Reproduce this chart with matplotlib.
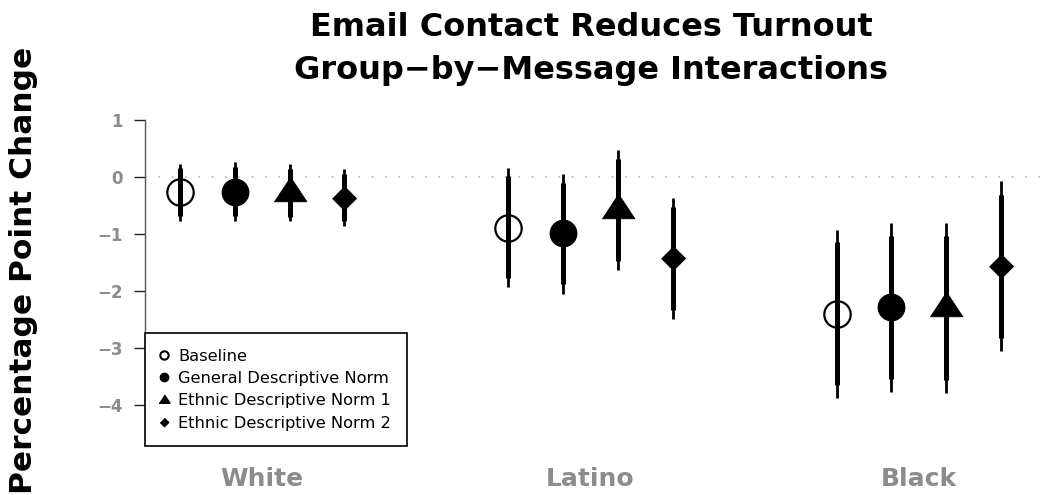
import matplotlib
matplotlib.use("Agg")
import matplotlib.pyplot as plt
from matplotlib.lines import Line2D
from matplotlib.transforms import blended_transform_factory

plt.rcParams['font.family'] = ['DejaVu Sans']

groups = ["White", "Latino", "Black"]
treatments = ["Baseline", "General Descriptive Norm",
              "Ethnic Descriptive Norm 1", "Ethnic Descriptive Norm 2"]

# rows: groups (White, Latino, Black); columns: treatments
est  = [[-0.27, -0.27, -0.28, -0.37],
        [-0.90, -0.99, -0.58, -1.43],
        [-2.40, -2.29, -2.30, -1.57]]
hi95 = [[0.23, 0.25, 0.22, 0.13],
        [0.15, 0.05, 0.47, -0.37],
        [-0.93, -0.81, -0.81, -0.08]]
lo95 = [[-0.77, -0.77, -0.78, -0.86],
        [-1.94, -2.05, -1.63, -2.49],
        [-3.88, -3.77, -3.80, -3.06]]
hi90 = [[0.15, 0.16, 0.14, 0.05],
        [0.01, -0.12, 0.31, -0.54],
        [-1.15, -1.04, -1.04, -0.32]]
lo90 = [[-0.69, -0.69, -0.70, -0.78],
        [-1.78, -1.89, -1.47, -2.33],
        [-3.65, -3.55, -3.57, -2.83]]
yticks = [1, 0, -1, -2, -3, -4]

offsets = [-0.25, -1/12, 1/12, 0.25]
tri = [(0, 2/3), (0.66, -1/3), (-0.66, -1/3)]
dia = [(0, 1), (1, 0), (0, -1), (-1, 0)]
mstyle = [dict(marker='o', ms=19, mfc='white', mec='black', mew=1.6),
          dict(marker='o', ms=19, mfc='black', mec='black', mew=1),
          dict(marker=tri, ms=24, mfc='black', mec='black', mew=0.5),
          dict(marker=dia, ms=17.5, mfc='black', mec='black', mew=0.5)]

fig = plt.figure(figsize=(10.56, 4.95), dpi=100)
ax = fig.add_axes([145/1056, 49/495, (1050-145)/1056, (446-107)/495])
ax.set_xlim(0.643, 3.40)
ax.set_ylim(-4.72, 1.22)

ax.axhline(0, color='#bbbbbb', lw=1.2, ls=(0, (1, 7)), zorder=0)

for g in range(len(groups)):
    for t in range(len(treatments)):
        x = g + 1 + offsets[t]
        ax.plot([x], [est[g][t]], ls='none', zorder=2, **mstyle[t])
        ax.plot([x, x], [lo95[g][t], hi95[g][t]], color='black', lw=2.0,
                solid_capstyle='butt', zorder=3)
        ax.plot([x, x], [lo90[g][t], hi90[g][t]], color='black', lw=3.6,
                solid_capstyle='butt', zorder=3)

for s in ['top', 'right', 'bottom']:
    ax.spines[s].set_visible(False)
ax.spines['left'].set_bounds(-4, 1)
ax.spines['left'].set_color('#555555')
ax.spines['left'].set_linewidth(1.0)
ax.set_yticks(yticks)
ax.set_yticklabels([str(v).replace('-', '\u2212') for v in yticks])
ax.tick_params(axis='y', length=8, width=1.0, color='#222222',
               labelcolor='#8c8c8c', labelsize=12, pad=8)
for lbl in ax.get_yticklabels():
    lbl.set_fontweight('bold')
ax.set_xticks([])

tr = blended_transform_factory(ax.transData, fig.transFigure)
for g, name in enumerate(groups):
    ax.text(g + 1, 1 - 486/495, name, transform=tr, ha='center',
            va='baseline', fontsize=18, fontweight='bold', color='#8c8c8c')

fig.text(24/1056, 1 - 270/495, "Percentage Point Change", rotation=90,
         ha='center', va='center', fontsize=22.5, fontweight='bold')
fig.text(591/1056, 1 - 36/495, "Email Contact Reduces Turnout", ha='center',
         va='baseline', fontsize=23, fontweight='bold')
fig.text(591/1056, 1 - 79/495, "Group\u2212by\u2212Message Interactions",
         ha='center', va='baseline', fontsize=23, fontweight='bold')

lstyle = [dict(marker='o', ms=6, mfc='white', mec='black', mew=1.5),
          dict(marker='o', ms=6, mfc='black', mec='black'),
          dict(marker=tri, ms=8, mfc='black', mec='black'),
          dict(marker=dia, ms=6, mfc='black', mec='black')]
handles = [Line2D([], [], ls='none', **lstyle[i]) for i in range(4)]
leg = ax.legend(handles, treatments, loc='lower left', bbox_to_anchor=(0, 0),
                borderaxespad=0, fontsize=11.7, frameon=True, fancybox=False,
                framealpha=1, handlelength=0.4, handletextpad=0.7,
                labelspacing=0.45, borderpad=0.95)
leg.get_frame().set_edgecolor('black')
leg.get_frame().set_linewidth(1.2)

fig.savefig("out.png", dpi=100)
